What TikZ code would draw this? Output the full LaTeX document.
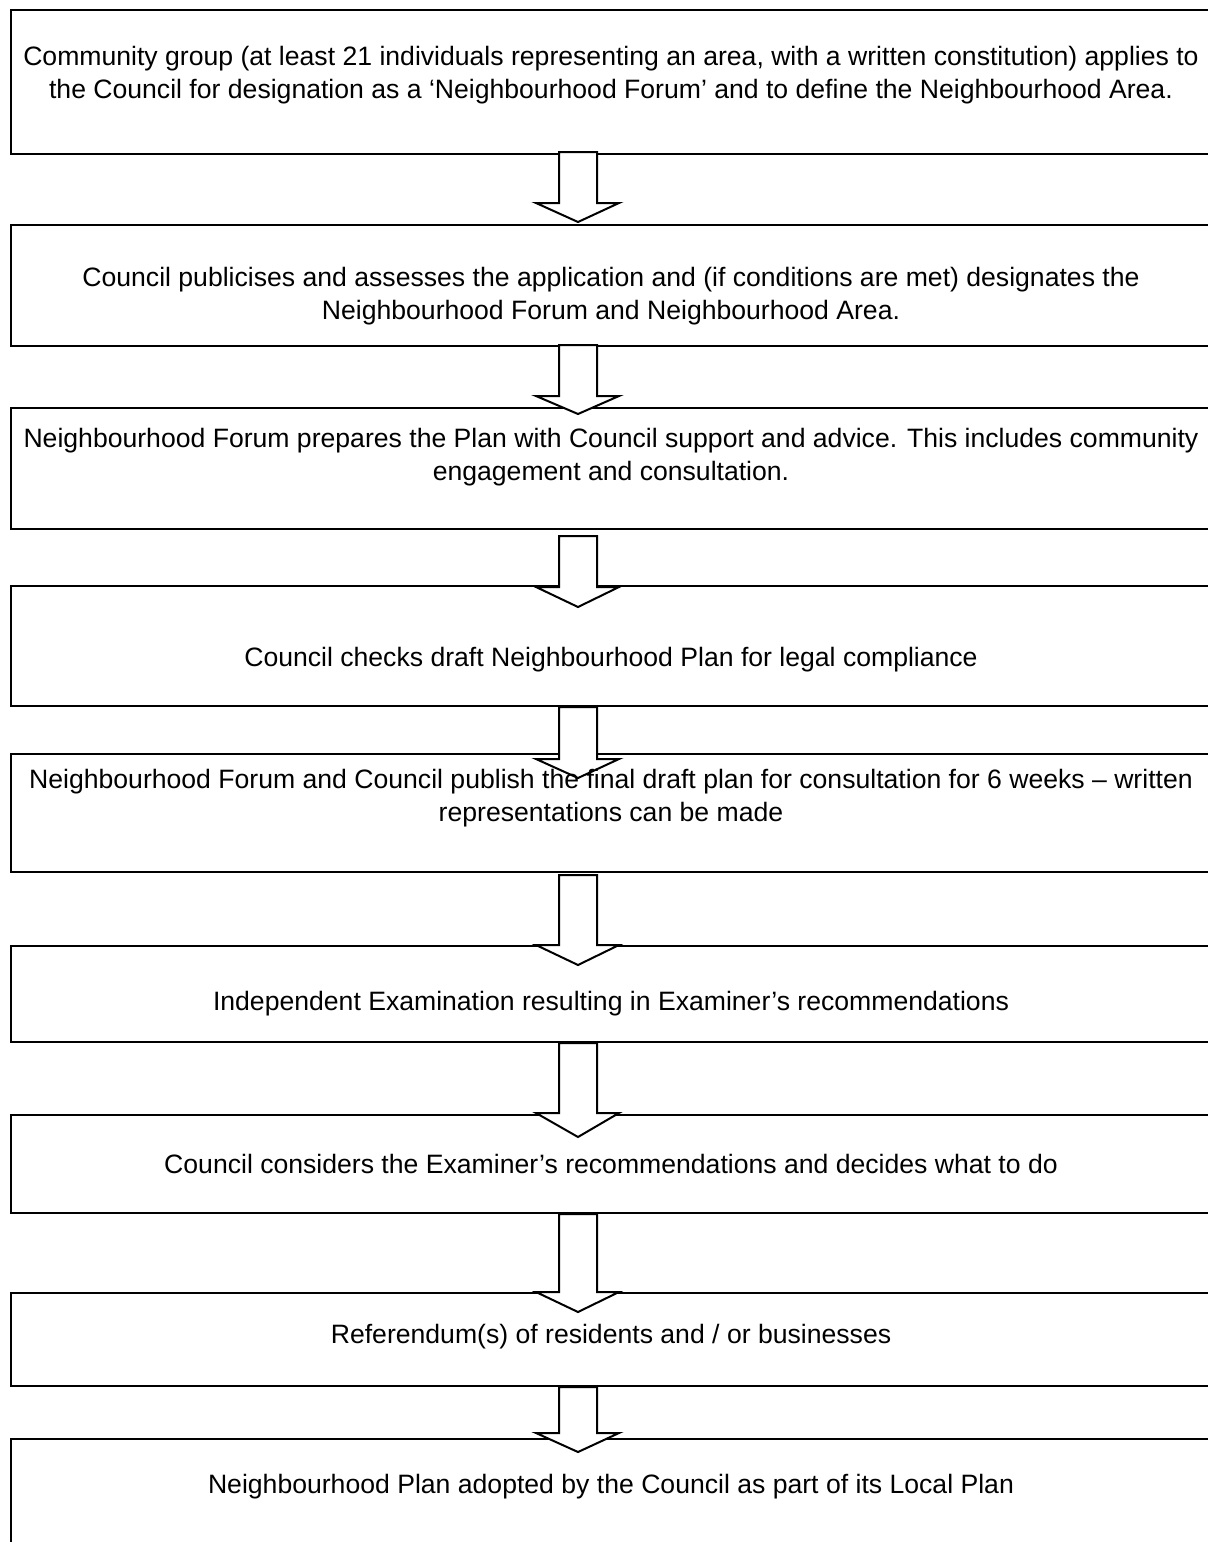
\documentclass[tikz,border=0pt]{standalone}
\usepackage{fontspec}
\setmainfont{Liberation Sans}
\newcommand\flowarrow[5]{% from node, to node, top shift, head shift, tip shift (pt, downward negative)
  \draw[blockarrow] ([xshift=-26.5pt,yshift=#3]#1.south) -- ([xshift=-7.5pt,yshift=#3]#1.south)
  -- ([xshift=-7.5pt,yshift=#4]#2.north) -- ([xshift=3.5pt,yshift=#4]#2.north)
  -- ([xshift=-17pt,yshift=#5]#2.north) -- ([xshift=-38pt,yshift=#4]#2.north)
  -- ([xshift=-26.5pt,yshift=#4]#2.north) -- cycle;}
\begin{document}
\begin{tikzpicture}[x=0.5pt,y=-0.5pt,
  box/.style={draw=black,line width=1pt,fill=white,inner sep=0pt,minimum width=601pt,anchor=north west},
  txt/.style={align=center,inner sep=0pt,font=\fontsize{13.3}{16.5}\selectfont},
  blockarrow/.style={draw=black,line width=1pt,fill=white,line join=miter}]
\useasboundingbox (0,0) rectangle (1208,1542);
\clip (0,0) rectangle (1208,1542);
% boxes
\node[box,minimum height=72pt] (b1) at (10,9) {};
\node[box,minimum height=60.5pt] (b2) at (10,224) {};
\node[box,minimum height=60.5pt] (b3) at (10,407) {};
\node[box,minimum height=60pt] (b4) at (10,585) {};
\node[box,minimum height=59pt] (b5) at (10,753) {};
\node[box,minimum height=48pt] (b6) at (10,945) {};
\node[box,minimum height=49pt] (b7) at (10,1114) {};
\node[box,minimum height=46.5pt] (b8) at (10,1292) {};
\node[box,minimum height=70pt] (b9) at (10,1438) {};
% block arrows between boxes
\flowarrow{b1}{b2}{1.5pt}{10.5pt}{1pt}
\flowarrow{b2}{b3}{1pt}{5.5pt}{-3.5pt}
\flowarrow{b3}{b4}{-3pt}{-1pt}{-11pt}
\flowarrow{b4}{b5}{0pt}{-3pt}{-12.5pt}
\flowarrow{b5}{b6}{-1pt}{0pt}{-10pt}
\flowarrow{b6}{b7}{0pt}{0.5pt}{-11.5pt}
\flowarrow{b7}{b8}{0pt}{0pt}{-10pt}
\flowarrow{b8}{b9}{0pt}{2.5pt}{-7pt}
% texts
\node[txt] (t1) at (611,75) {Community group (at least 21 individuals representing an area, with a written constitution) applies to\\the Council for designation as a ‘Neighbourhood Forum’ and to define the Neighbourhood Area.};
\node[txt] (t2) at (611,296.5) {Council publicises and assesses the application and (if conditions are met) designates the\\Neighbourhood Forum and Neighbourhood Area.};
\node[txt] (t3) at (611,457.5) {Neighbourhood Forum prepares the Plan with Council support and advice. This includes community\\engagement and consultation.};
\node[txt] (t4) at (611,660) {Council checks draft Neighbourhood Plan for legal compliance};
\node[txt] (t5) at (611,798.5) {Neighbourhood Forum and Council publish the final draft plan for consultation for 6 weeks – written\\representations can be made};
\node[txt] (t6) at (611,1004) {Independent Examination resulting in Examiner’s recommendations};
\node[txt] (t7) at (611,1164) {Council considers the Examiner’s recommendations and decides what to do};
\node[txt] (t8) at (611,1337) {Referendum(s) of residents and / or businesses};
\node[txt] (t9) at (611,1487) {Neighbourhood Plan adopted by the Council as part of its Local Plan};
\end{tikzpicture}
\end{document}
